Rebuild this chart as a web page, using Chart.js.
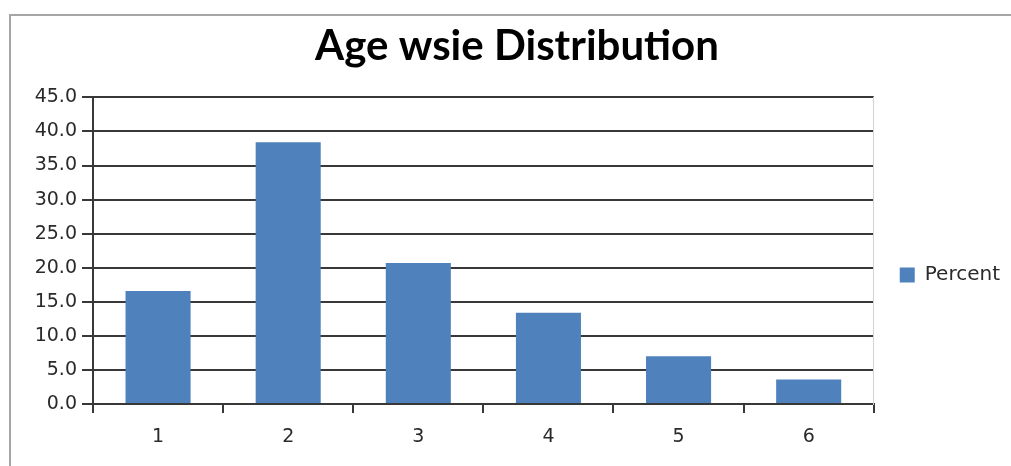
<!DOCTYPE html>
<html lang="en">
<head>
    <meta charset="UTF-8">
    <title>Age wsie Distribution</title>
    <script src="https://cdn.jsdelivr.net/npm/chart.js"></script>
    <style>
        html, body { margin: 0; padding: 0; background: #fff; overflow: hidden; }
        .frame {
            position: absolute; left: 9px; top: 14px;
            width: 1100px; height: 500px;
            border-top: 2px solid #a6a6a6; border-left: 2px solid #a6a6a6;
        }
        #ageChart { display: block; }
    </style>
</head>
<body>

<div class="frame">
    <canvas id="ageChart" width="1014" height="450"></canvas>
</div>

<script>
    // age groups and their share in percent
    const ageGroups = ["1", "2", "3", "4", "5", "6"];
    const percent = [16.6, 38.4, 20.7, 13.4, 7.0, 3.6];
    const yTicks = [0, 5, 10, 15, 20, 25, 30, 35, 40, 45];

    const axisFont = { family: "DejaVu Sans", size: 19 };
    const gridColor = '#383838';

    const ctx = document.getElementById('ageChart').getContext('2d');

    new Chart(ctx, {
        type: 'bar',
        data: {
            labels: ageGroups,
            datasets: [{
                label: 'Percent',
                data: percent,
                backgroundColor: '#4F81BD',
                borderWidth: 0,
                categoryPercentage: 1.0,
                barPercentage: 0.5
            }]
        },
        options: {
            responsive: false,
            animation: false,
            layout: { padding: { left: 13, right: 15, top: 0, bottom: 0 } },
            scales: {
                x: {
                    offset: true,
                    grid: {
                        offset: true,
                        drawOnChartArea: false,
                        drawTicks: true,
                        tickLength: 9,
                        color: gridColor,
                        lineWidth: 2
                    },
                    border: { color: gridColor, width: 2 },
                    ticks: { font: axisFont, color: '#2a2a2a', padding: 13 },
                    afterFit: (scale) => { scale.height = 62; }
                },
                y: {
                    min: 0,
                    max: 45,
                    afterBuildTicks: (scale) => {
                        scale.ticks = yTicks.map(v => ({ value: v }));
                    },
                    grid: {
                        color: gridColor,
                        lineWidth: 2,
                        tickLength: 11
                    },
                    border: { color: gridColor, width: 2 },
                    ticks: {
                        font: axisFont,
                        color: '#2a2a2a',
                        padding: 5,
                        callback: (v) => Number(v).toFixed(1)
                    },
                    afterFit: (scale) => { scale.width = 69; }
                },
                // thin light line closing the plot on the right
                yRight: {
                    position: 'right',
                    min: 0,
                    max: 45,
                    grid: { display: false },
                    ticks: { display: false },
                    border: { color: '#d4d4d4', width: 1 },
                    afterFit: (scale) => { scale.width = 0; }
                }
            },
            plugins: {
                title: {
                    display: true,
                    text: 'Age wsie Distribution',
                    color: '#000',
                    font: { family: 'Lato', size: 42, weight: 'bold' },
                    padding: { top: 5, bottom: 26 }
                },
                legend: {
                    position: 'right',
                    title: { display: true, text: '', font: { size: 10 }, padding: 28 },
                    labels: {
                        boxWidth: 15,
                        boxHeight: 15,
                        padding: 26,
                        color: '#2a2a2a',
                        font: { family: "DejaVu Sans", size: 20 }
                    }
                },
                tooltip: { enabled: false }
            }
        }
    });
</script>

</body>
</html>
